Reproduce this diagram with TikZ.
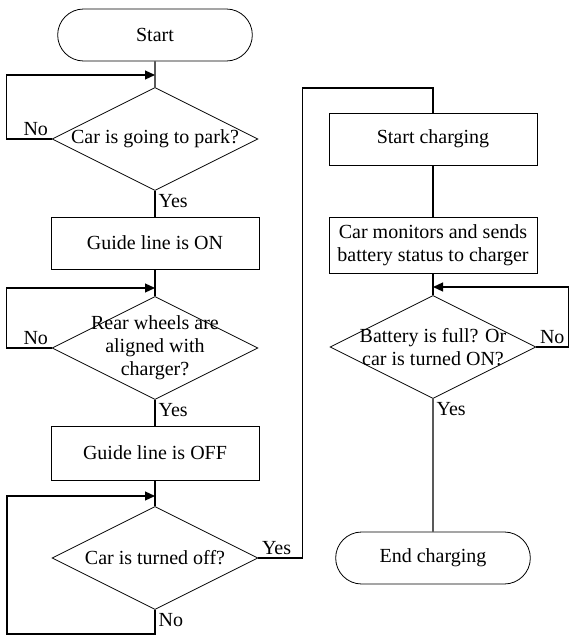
\documentclass[tikz,border=0pt]{standalone}
\usepackage{fontspec}
\setmainfont{Liberation Serif}
\usepackage{tikz}
\usetikzlibrary{positioning}
\usetikzlibrary{shapes,arrows.meta}

\tikzset{
  block/.style={draw, rectangle, minimum width=104pt, minimum height=26pt, inner sep=2pt, align=center},
  terminal/.style={draw, rounded rectangle, minimum width=104pt, minimum height=26pt},
  decision/.style={draw, diamond, inner sep=0pt, minimum width=103pt, minimum height=51.5pt},
  line/.style={draw, semithick},
  arrow/.style={line, -{Triangle[length=5pt,width=4.5pt]}},
  answer/.style={inner sep=1.5pt},
}

\begin{document}
\begin{tikzpicture}[x=0.5pt, y=-0.5pt, font=\fontsize{10}{11.5}\selectfont]
  \useasboundingbox (0,0) rectangle (569,636);

  % left column
  \node[terminal] (start) at (155,35) {Start};
  \node[decision, label={[align=center]center:Car is going to park?}] (park) at (155,139) {};
  \node[block] (on) at (155,243) {Guide line is ON};
  \node[decision, label={[align=center]center:Rear wheels are\\aligned with\\charger?}] (align) at (155,348) {};
  \node[block, minimum height=27pt] (off) at (155,453) {Guide line is OFF};
  \node[decision, label={[align=center]center:Car is turned off?}] (caroff) at (155,558) {};

  % right column
  \node[block] (charge) at (433,139) {Start charging};
  \node[block, minimum height=28pt] (monitor) at (433,245) {Car monitors and sends\\battery status to charger};
  \node[decision, label={[align=center]center:Battery is full? Or\\car is turned ON?}] (full) at (433,347) {};
  \node[terminal] (end) at (433,558) {End charging};

  \coordinate (j1) at (155,75);
  \coordinate (j2) at (155,288);
  \coordinate (j3) at (155,496);
  \coordinate (j4) at (433,287);

  \path[line] (start) -- (park);
  \path[arrow] (park.west) node[answer, above left] {No} -- ++(-45,0) |- (j1);
  \path[line] (park.south) node[answer, below right] {Yes} -- (on);
  \path[line] (on) -- (align);
  \path[arrow] (align.west) node[answer, above left] {No} -- ++(-45,0) |- (j2);
  \path[line] (align.south) node[answer, below right] {Yes} -- (off);
  \path[line] (off) -- (caroff);
  \path[arrow] (caroff.south) node[answer, below right] {No} -- ++(0,24) -| (7,496) -- (j3);
  \path[line] (caroff.east) node[answer, above right] {Yes} -- ++(44,0) |- (433,88) -- (charge);

  \path[line] (charge) -- (monitor);
  \path[line] (monitor) -- (full);
  \path[arrow] (full.east) node[answer, above right] {No} -- ++(32,0) |- (j4);
  \path[line] (full.south) node[answer, below right] {Yes} -- (end);
\end{tikzpicture}
\end{document}
